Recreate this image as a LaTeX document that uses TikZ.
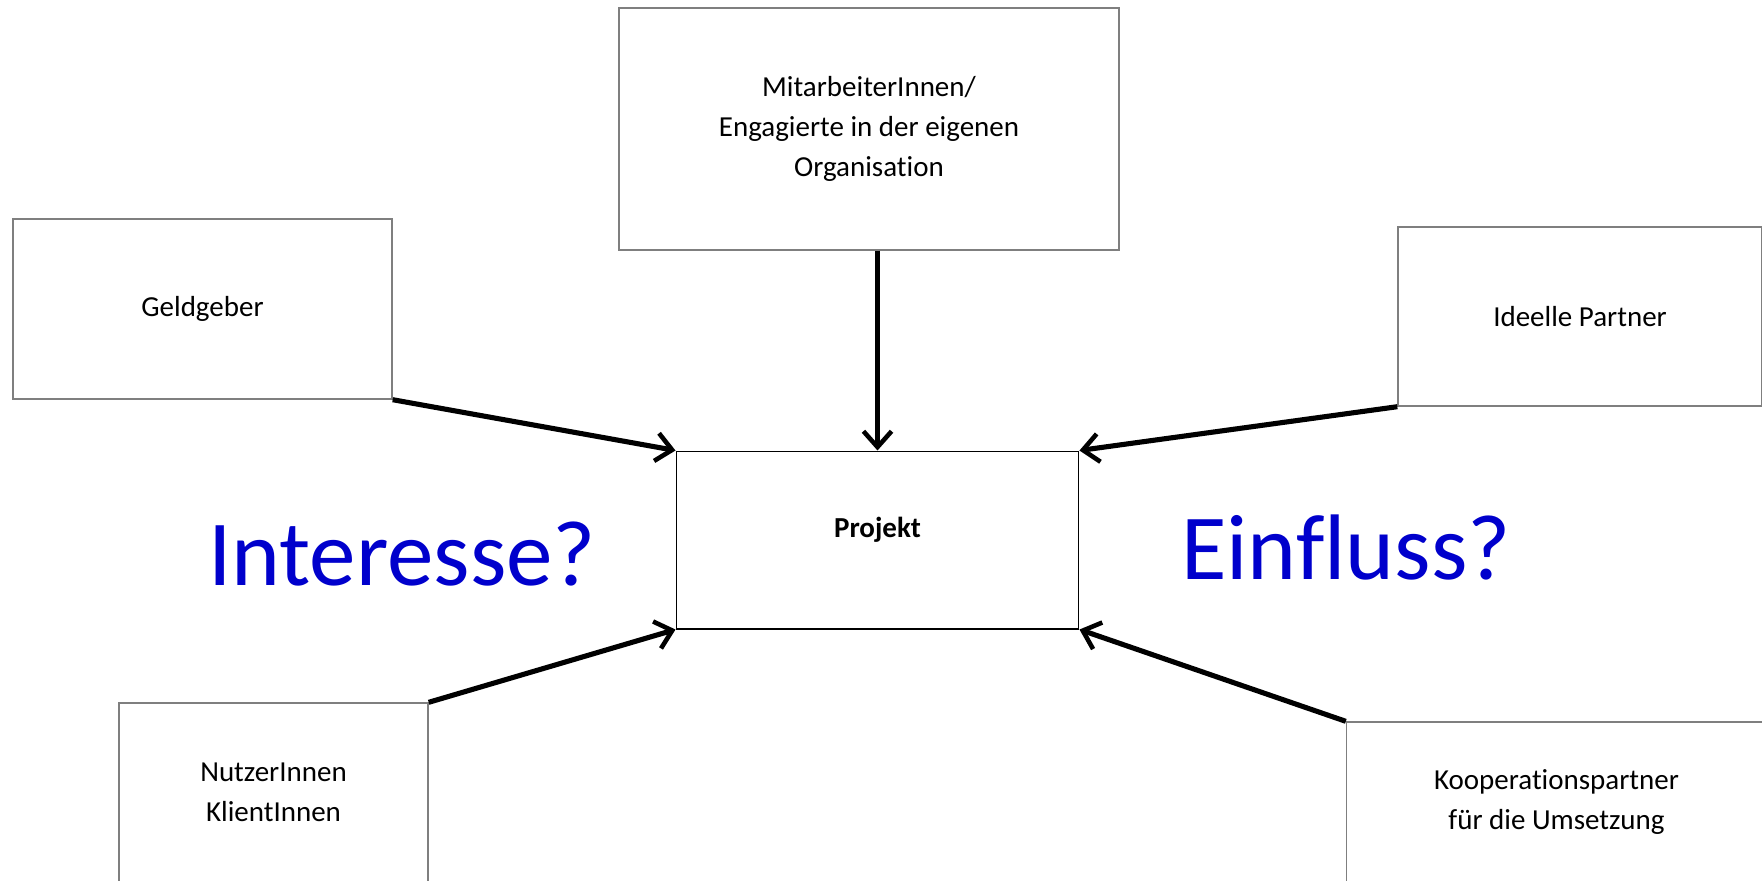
\documentclass[tikz,border=0pt]{standalone}
\usepackage{fontspec}
\setmainfont{Carlito}[Ligatures=NoCommon]
\usepackage{tikz}
\usetikzlibrary{arrows.meta,positioning}
\usepackage{xcolor}
\definecolor{frame}{HTML}{7F7F7F}
\definecolor{frageblau}{HTML}{0000CC}

\tikzset{
  stakebox/.style={draw=frame, line width=0.8pt, align=center, inner sep=0pt,
    font=\fontsize{16.5}{22.7}\selectfont},
  einwirkung/.style={line width=2.9pt, -{Straight Barb[length=9pt,width=16pt,line width=2.6pt]}},
  frage/.style={text=frageblau, anchor=base, font=\fontsize{53}{60}\selectfont}
}

\begin{document}
\begin{tikzpicture}[x=0.02cm, y=-0.02cm]
  \useasboundingbox (0,0) rectangle (1762,880);
  \clip (0,0) rectangle (1762,880);

  \node[stakebox, minimum width=10cm, minimum height=4.84cm] (orga) at (869,129)
    {MitarbeiterInnen/\\Engagierte in der eigenen\\Organisation};
  \node[stakebox, minimum width=7.58cm, minimum height=3.6cm] (geld) at (202.5,309) {Geldgeber};
  \node[stakebox, minimum width=7.28cm, minimum height=3.58cm] (ideell) at (1580,316.5) {Ideelle Partner};
  \node[stakebox, minimum width=6.18cm, minimum height=3.58cm] (nutzer) at (273.5,792.5)
    {NutzerInnen\\KlientInnen};
  \node[stakebox, minimum width=8.4cm, minimum height=3.2cm] (koop) at (1556.5,802)
    {Kooperationspartner\\für die Umsetzung};

  \node[stakebox, draw=black, line width=0.6pt, minimum width=8.06cm, minimum height=3.56cm,
    label={[font=\fontsize{16.5}{20}\selectfont\bfseries, yshift=6pt]center:Projekt}] (proj) at (877.5,540) {};

  \node[frage] (interesse) at (402,585) {Interesse?};
  \node[frage] (einfluss) at (1346,579) {Einfluss?};

  \draw[einwirkung] (proj.north |- orga.south) -- (proj.north);
  \draw[einwirkung] (geld.south east) -- (proj.north west);
  \draw[einwirkung] (ideell.south west) -- (proj.north east);
  \draw[einwirkung] (nutzer.north east) -- (proj.south west);
  \draw[einwirkung] (koop.north west) -- (proj.south east);
\end{tikzpicture}
\end{document}
